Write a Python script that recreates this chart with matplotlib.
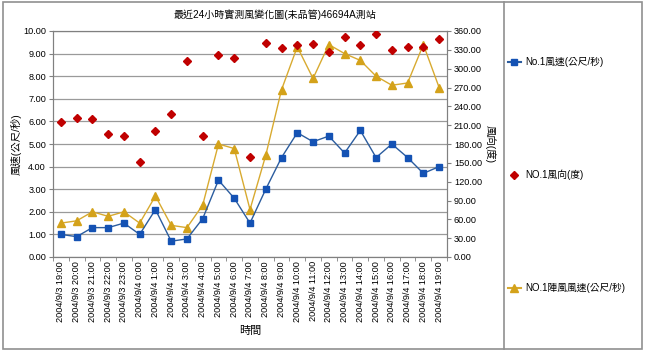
import matplotlib
matplotlib.use("Agg")
import matplotlib.pyplot as plt
from matplotlib.lines import Line2D
from matplotlib.patches import Rectangle

plt.rcParams['font.family'] = ['Liberation Sans', 'Noto Sans CJK TC', 'DejaVu Sans']

categories = ["2004/9/3 19:00", "2004/9/3 20:00", "2004/9/3 21:00", "2004/9/3 22:00",
              "2004/9/3 23:00", "2004/9/4 0:00", "2004/9/4 1:00", "2004/9/4 2:00",
              "2004/9/4 3:00", "2004/9/4 4:00", "2004/9/4 5:00", "2004/9/4 6:00",
              "2004/9/4 7:00", "2004/9/4 8:00", "2004/9/4 9:00", "2004/9/4 10:00",
              "2004/9/4 11:00", "2004/9/4 12:00", "2004/9/4 13:00", "2004/9/4 14:00",
              "2004/9/4 15:00", "2004/9/4 16:00", "2004/9/4 17:00", "2004/9/4 18:00",
              "2004/9/4 19:00"]
wind_speed = [1.0, 0.9, 1.3, 1.3, 1.5, 1.0, 2.1, 0.7, 0.8, 1.7, 3.4, 2.6, 1.5, 3.0,
              4.4, 5.5, 5.1, 5.35, 4.6, 5.6, 4.4, 5.0, 4.4, 3.7, 4.0]
wind_dir = [215, 221, 220, 196, 193, 152, 201, 228, 313, 193, 322, 317, 160, 341,
            333, 338, 339, 327, 351, 338, 355, 329, 334, 335, 348]
gust_speed = [1.5, 1.6, 2.0, 1.8, 2.0, 1.5, 2.7, 1.4, 1.3, 2.3, 5.0, 4.8, 2.1, 4.5,
              7.4, 9.3, 7.9, 9.4, 9.0, 8.7, 8.0, 7.6, 7.7, 9.4, 7.5]

title = "最近24小時實測風變化圖(未品管)46694A測站"
label_speed = "No.1風速(公尺/秒)"
label_dir = "NO.1風向(度)"
label_gust = "NO.1陣風風速(公尺/秒)"

W, H = 645, 352
fig = plt.figure(figsize=(W / 100, H / 100), dpi=100)

left, right, top, bottom = 53, 447, 31, 257
ax = fig.add_axes([left / W, 1 - bottom / H, (right - left) / W, (bottom - top) / H])
ax2 = ax.twinx()

fs = 6.6
x = list(range(len(categories)))

blue = '#1452B4'
blue_line = '#2B5C9E'
gold = '#D4A21A'
gold_line = '#D8AA30'
red = '#C00000'

ax.set_ylim(0, 10)
ax.set_xlim(-0.5, len(categories) - 0.5)
ax.set_yticks([i for i in range(11)])
ax.set_yticklabels([f"{i:.2f}" for i in range(11)], fontsize=fs)
ax.grid(axis='y', color='#9a9a9a', linewidth=0.9)
ax.set_axisbelow(True)
ax.set_xticks(x)
ax.set_xticklabels(categories, rotation=90, fontsize=fs)
ax.set_xticks([i - 0.5 for i in range(len(categories) + 1)], minor=True)
ax.tick_params(axis='x', which='major', length=0, pad=3)
ax.tick_params(axis='x', which='minor', length=3, color='#808080')
ax.tick_params(axis='y', length=3, color='#808080', pad=2)

ax.plot(x, gust_speed, color=gold_line, linewidth=1.0, marker='^', markersize=5.2,
        markerfacecolor=gold, markeredgecolor=gold, zorder=3)
ax.plot(x, wind_speed, color=blue_line, linewidth=1.0, marker='s', markersize=3.8,
        markerfacecolor=blue, markeredgecolor=blue, zorder=4)

ax2.set_ylim(0, 360)
ax2.set_yticks([i * 30 for i in range(13)])
ax2.set_yticklabels([f"{i * 30:.2f}" for i in range(13)], fontsize=fs)
ax2.tick_params(axis='y', length=3, color='#808080', pad=2)
ax2.plot(x, wind_dir, linestyle='none', marker='D', markersize=3.6,
         markerfacecolor=red, markeredgecolor=red, zorder=5)

for a in (ax, ax2):
    for s in a.spines.values():
        s.set_color('#808080')
        s.set_linewidth(0.8)

ax.set_ylabel("風速(公尺/秒)", fontsize=7.5, labelpad=1)
ax2.set_ylabel("風向(度)", fontsize=7.5, rotation=270, labelpad=10)
ax.set_xlabel("時間", fontsize=8, labelpad=3)
fig.text(275 / W, 1 - 15 / H, title, fontsize=7.2, ha='center', va='center')

# frame and divider
fig.patches.append(Rectangle((3 / W, 1 - 349 / H), (642 - 3) / W, (349 - 2) / H,
                             transform=fig.transFigure, fill=False,
                             edgecolor='#909090', linewidth=1.2))
fig.lines.append(Line2D([504 / W, 504 / W], [1 - 349 / H, 1 - 2 / H],
                        transform=fig.transFigure, color='#909090', linewidth=1.2))

# legends
entries = [
    (62, Line2D([], [], color=blue_line, marker='s', markersize=3.8,
                markerfacecolor=blue, markeredgecolor=blue), label_speed),
    (175, Line2D([], [], linestyle='none', marker='D', markersize=3.6,
                 markerfacecolor=red, markeredgecolor=red), label_dir),
    (288, Line2D([], [], color=gold_line, marker='^', markersize=5.2,
                 markerfacecolor=gold, markeredgecolor=gold), label_gust),
]
for ypix, h, lab in entries:
    fig.legend([h], [lab], loc='center left', bbox_to_anchor=(508 / W, 1 - ypix / H),
               frameon=False, fontsize=7, handlelength=1.3, handletextpad=0.5,
               borderpad=0, borderaxespad=0)

fig.savefig("out.png", dpi=100)
